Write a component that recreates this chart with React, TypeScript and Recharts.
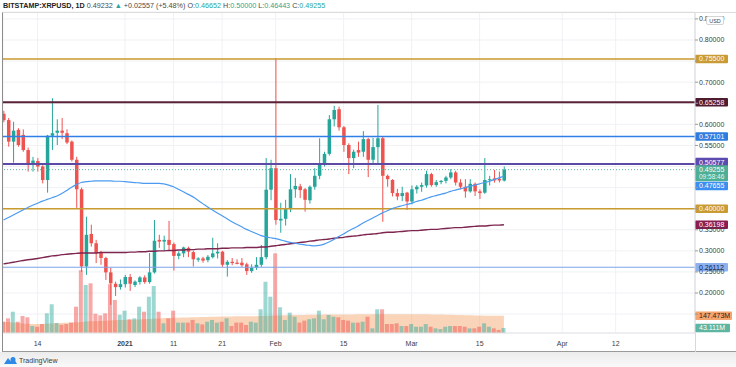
import React from 'react';
import { ComposedChart, Bar, Line, Area, XAxis, YAxis, CartesianGrid, ReferenceLine } from 'recharts';

const GREEN = '#26a69a';
const RED = '#ef5350';
const FONT = "'Liberation Sans', Arial, sans-serif";

// day offsets from 2021-01-01 (Dec 7 .. Mar 20)
const dayOffsets = [
  -25, -24, -23, -22, -21, -20, -19, -18, -17, -16,
  -15, -14, -13, -12, -11, -10, -9, -8, -7, -6,
  -5, -4, -3, -2, -1, 0, 1, 2, 3, 4,
  5, 6, 7, 8, 9, 10, 11, 12, 13, 14,
  15, 16, 17, 18, 19, 20, 21, 22, 23, 24,
  25, 26, 27, 28, 29, 30, 31, 32, 33, 34,
  35, 36, 37, 38, 39, 40, 41, 42, 43, 44,
  45, 46, 47, 48, 49, 50, 51, 52, 53, 54,
  55, 56, 57, 58, 59, 60, 61, 62, 63, 64,
  65, 66, 67, 68, 69, 70, 71, 72, 73, 74,
  75, 76, 77, 78,
];

const opens = [
  0.625, 0.610, 0.559, 0.587, 0.575, 0.539, 0.508, 0.513, 0.500, 0.468,
  0.573, 0.580, 0.585, 0.579, 0.559, 0.516, 0.446, 0.263, 0.340, 0.318,
  0.295, 0.283, 0.249, 0.222, 0.214, 0.221, 0.238, 0.219, 0.226, 0.237,
  0.226, 0.249, 0.326, 0.322, 0.326, 0.316, 0.288, 0.294, 0.307, 0.297,
  0.279, 0.282, 0.278, 0.285, 0.294, 0.298, 0.267, 0.274, 0.272, 0.272,
  0.268, 0.252, 0.260, 0.267, 0.285, 0.445, 0.496, 0.372, 0.376, 0.399,
  0.446, 0.453, 0.446, 0.420, 0.452, 0.478, 0.506, 0.530, 0.612, 0.636,
  0.593, 0.551, 0.520, 0.539, 0.535, 0.565, 0.516, 0.546, 0.567, 0.478,
  0.468, 0.437, 0.430, 0.438, 0.417, 0.446, 0.452, 0.455, 0.482, 0.456,
  0.463, 0.466, 0.474, 0.486, 0.462, 0.452, 0.441, 0.459, 0.441, 0.438,
  0.468, 0.472, 0.471, 0.46652,
];

const highs = [
  0.632, 0.615, 0.606, 0.591, 0.588, 0.545, 0.523, 0.520, 0.503, 0.575,
  0.662, 0.612, 0.615, 0.588, 0.562, 0.523, 0.450, 0.381, 0.362, 0.326,
  0.300, 0.286, 0.260, 0.227, 0.232, 0.243, 0.245, 0.230, 0.240, 0.242,
  0.295, 0.373, 0.338, 0.336, 0.371, 0.320, 0.299, 0.310, 0.310, 0.300,
  0.285, 0.286, 0.290, 0.331, 0.318, 0.300, 0.278, 0.283, 0.280, 0.283,
  0.272, 0.268, 0.285, 0.314, 0.520, 0.516, 0.757, 0.414, 0.421, 0.482,
  0.473, 0.459, 0.449, 0.455, 0.496, 0.567, 0.535, 0.622, 0.644, 0.642,
  0.596, 0.555, 0.540, 0.559, 0.584, 0.568, 0.568, 0.646, 0.571, 0.481,
  0.470, 0.447, 0.452, 0.440, 0.455, 0.456, 0.462, 0.490, 0.485, 0.468,
  0.468, 0.478, 0.494, 0.490, 0.470, 0.470, 0.470, 0.462, 0.446, 0.520,
  0.478, 0.492, 0.488, 0.500,
];

const lows = [
  0.605, 0.547, 0.509, 0.547, 0.535, 0.488, 0.488, 0.488, 0.460, 0.438,
  0.539, 0.551, 0.565, 0.553, 0.512, 0.402, 0.250, 0.243, 0.310, 0.271,
  0.267, 0.231, 0.172, 0.193, 0.208, 0.213, 0.205, 0.214, 0.220, 0.222,
  0.222, 0.246, 0.307, 0.300, 0.302, 0.253, 0.280, 0.285, 0.285, 0.263,
  0.274, 0.272, 0.273, 0.282, 0.282, 0.262, 0.239, 0.266, 0.268, 0.262,
  0.243, 0.248, 0.255, 0.262, 0.280, 0.420, 0.362, 0.343, 0.360, 0.392,
  0.426, 0.425, 0.393, 0.412, 0.445, 0.470, 0.500, 0.526, 0.595, 0.585,
  0.535, 0.482, 0.496, 0.523, 0.523, 0.475, 0.505, 0.505, 0.369, 0.452,
  0.429, 0.420, 0.418, 0.397, 0.410, 0.436, 0.440, 0.450, 0.452, 0.452,
  0.458, 0.460, 0.470, 0.455, 0.446, 0.426, 0.438, 0.430, 0.423, 0.435,
  0.455, 0.462, 0.462, 0.46443,
];

const closes = [
  0.610, 0.559, 0.585, 0.551, 0.539, 0.508, 0.514, 0.500, 0.468, 0.573,
  0.579, 0.585, 0.580, 0.557, 0.516, 0.446, 0.263, 0.338, 0.318, 0.295,
  0.283, 0.249, 0.223, 0.214, 0.221, 0.238, 0.222, 0.227, 0.237, 0.226,
  0.249, 0.324, 0.322, 0.326, 0.314, 0.288, 0.294, 0.308, 0.298, 0.280,
  0.282, 0.277, 0.286, 0.294, 0.298, 0.267, 0.274, 0.271, 0.269, 0.266,
  0.252, 0.260, 0.267, 0.285, 0.445, 0.496, 0.373, 0.376, 0.399, 0.446,
  0.454, 0.444, 0.421, 0.452, 0.478, 0.508, 0.530, 0.612, 0.634, 0.593,
  0.551, 0.520, 0.535, 0.533, 0.565, 0.516, 0.546, 0.567, 0.478, 0.470,
  0.437, 0.429, 0.437, 0.417, 0.446, 0.452, 0.456, 0.482, 0.456, 0.463,
  0.466, 0.474, 0.486, 0.462, 0.452, 0.441, 0.459, 0.441, 0.437, 0.468,
  0.470, 0.467, 0.467, 0.49255,
];

// volume in millions
const volumes = [
  97, 126, 183, 97, 146, 135, 60, 54, 77, 169,
  247, 86, 71, 77, 89, 226, 540, 413, 427, 166,
  152, 169, 420, 284, 157, 192, 118, 126, 226, 183,
  312, 404, 183, 83, 126, 192, 89, 89, 89, 112,
  83, 74, 97, 112, 89, 97, 126, 60, 89, 89,
  69, 97, 89, 204, 441, 312, 685, 221, 112, 175,
  140, 89, 106, 118, 126, 192, 118, 155, 140, 135,
  112, 106, 89, 89, 97, 140, 40, 204, 204, 77,
  77, 83, 60, 60, 77, 54, 54, 77, 54, 40,
  34, 54, 60, 60, 60, 54, 40, 40, 54, 83,
  54, 40, 26, 43.111,
];

const volumeMA = [
  97, 94, 90, 86, 82, 79, 77, 77, 78, 80,
  82, 84, 86, 88, 90, 92, 95, 98, 100, 102,
  104, 106, 108, 110, 111, 112, 113, 115, 117, 119,
  121, 123, 125, 128, 130, 131, 132, 133, 134, 135,
  136, 137, 138, 139, 140, 141, 142, 142, 143, 143,
  144, 145, 145, 146, 147, 148, 150, 151, 152, 153,
  154, 155, 155, 156, 157, 157, 158, 158, 159, 159,
  160, 160, 160, 161, 161, 161, 161, 162, 162, 162,
  162, 162, 162, 162, 162, 161, 161, 161, 160, 159,
  158, 157, 156, 155, 154, 153, 152, 151, 150, 149,
  149, 148, 148, 147.473,
];

const ma50 = [
  0.373, 0.379, 0.385, 0.391, 0.397, 0.403, 0.408, 0.413, 0.418, 0.422,
  0.426, 0.430, 0.436, 0.443, 0.451, 0.457, 0.462, 0.464, 0.465, 0.466,
  0.466, 0.466, 0.466, 0.465, 0.465, 0.464, 0.463, 0.462, 0.461, 0.460,
  0.460, 0.460, 0.460, 0.459, 0.456, 0.452, 0.446, 0.440, 0.434, 0.428,
  0.420, 0.412, 0.404, 0.397, 0.390, 0.383, 0.376, 0.369, 0.363, 0.357,
  0.351, 0.346, 0.341, 0.336, 0.333, 0.331, 0.329, 0.326, 0.323, 0.320,
  0.318, 0.316, 0.314, 0.313, 0.312, 0.313, 0.316, 0.321, 0.327, 0.334,
  0.340, 0.347, 0.353, 0.359, 0.366, 0.372, 0.378, 0.384, 0.390, 0.395,
  0.400, 0.404, 0.407, 0.410, 0.413, 0.417, 0.420, 0.424, 0.428, 0.431,
  0.434, 0.437, 0.441, 0.444, 0.447, 0.450, 0.453, 0.456, 0.459, 0.462,
  0.465, 0.469, 0.473, 0.47655,
];

const ma200 = [
  0.269, 0.271, 0.273, 0.275, 0.277, 0.279, 0.280, 0.282, 0.284, 0.286,
  0.288, 0.289, 0.291, 0.292, 0.293, 0.294, 0.295, 0.295, 0.295, 0.295,
  0.296, 0.296, 0.296, 0.296, 0.296, 0.296, 0.297, 0.297, 0.298, 0.298,
  0.299, 0.299, 0.300, 0.300, 0.301, 0.301, 0.302, 0.302, 0.303, 0.303,
  0.304, 0.304, 0.305, 0.305, 0.305, 0.306, 0.306, 0.307, 0.307, 0.307,
  0.308, 0.308, 0.308, 0.309, 0.309, 0.311, 0.312, 0.314, 0.315, 0.317,
  0.318, 0.320, 0.321, 0.323, 0.324, 0.326, 0.327, 0.328, 0.330, 0.331,
  0.332, 0.334, 0.335, 0.336, 0.338, 0.339, 0.340, 0.341, 0.343, 0.344,
  0.344, 0.345, 0.346, 0.347, 0.348, 0.348, 0.349, 0.350, 0.351, 0.351,
  0.352, 0.353, 0.354, 0.355, 0.355, 0.356, 0.357, 0.358, 0.359, 0.359,
  0.360, 0.361, 0.361, 0.36198,
];

const xTicks = [-18, 0, 10, 20, 31, 45, 59, 73, 90, 101];
const xTickLabels = ['14', '2021', '11', '21', 'Feb', '15', 'Mar', '15', 'Apr', '12'];

const priceTicks = [0.15, 0.2, 0.25, 0.3, 0.35, 0.4, 0.45, 0.5, 0.55, 0.6, 0.65, 0.7, 0.75, 0.8, 0.85];
const hiddenTicks = [0.15, 0.4, 0.45, 0.5, 0.65, 0.75];

const levels = [
  { value: 0.755, color: '#c99a2e', width: 1.5, tag: '#c99b35', text: '#ffffff', shift: 0 },
  { value: 0.65258, color: '#5a2139', width: 2, tag: '#4e1b2f', text: '#ffffff', shift: 0 },
  { value: 0.57101, color: '#2f7fe6', width: 1.5, tag: '#2e7ce0', text: '#ffffff', shift: 0 },
  { value: 0.50577, color: '#5b4aa6', width: 2, tag: '#5c4ab0', text: '#ffffff', shift: -2 },
  { value: 0.4, color: '#c99a2e', width: 1.5, tag: '#c99b35', text: '#ffffff', shift: 0 },
  { value: 0.26112, color: '#7aa3ea', width: 1, tag: '#8db0ef', text: '#15244a', shift: 0 },
];

const lastPrice = 0.49255;
const countdown = '09:58:46';

const rows = dayOffsets.map((d, i) => ({
  d,
  o: opens[i],
  h: highs[i],
  l: lows[i],
  c: closes[i],
  range: [lows[i], highs[i]],
  vol: volumes[i] * 1e6,
  volMA: volumeMA[i] * 1e6,
  ma50: ma50[i],
  ma200: ma200[i],
}));

const Candle = (props: any) => {
  const { x, y, width, height, payload } = props;
  if (!payload) return <g />;
  const { o, h, l, c } = payload;
  const color = c >= o ? GREEN : RED;
  const top = Math.min(y, y + height);
  const full = Math.abs(height);
  const ppu = h - l > 0 ? full / (h - l) : 0;
  const yOf = (p: number) => top + (h - p) * ppu;
  const cx = x + width / 2;
  const bodyTop = yOf(Math.max(o, c));
  const bodyH = Math.max(1, yOf(Math.min(o, c)) - bodyTop);
  return (
    <g>
      <line x1={cx} x2={cx} y1={top} y2={top + full} stroke={color} strokeWidth={1} />
      <rect x={x} y={bodyTop} width={width} height={bodyH} fill={color} />
    </g>
  );
};

const VolBar = (props: any) => {
  const { x, y, width, height, payload } = props;
  if (!payload) return <g />;
  const up = payload.c >= payload.o;
  return (
    <rect
      x={x}
      y={y}
      width={width}
      height={Math.max(0, height)}
      fill={up ? 'rgba(38,166,154,0.45)' : 'rgba(239,83,80,0.5)'}
    />
  );
};

const tag = (text: string, bg: string, fg: string, shift = 0, w = 33) => (props: any) => {
  const vb = props.viewBox || {};
  const x0 = vb.x + vb.width;
  const yc = vb.y + shift;
  return (
    <g>
      <rect x={x0} y={yc - 4.25} width={w} height={8.5} rx={1} fill={bg} />
      <text x={x0 + 4} y={yc} dy="0.35em" fontSize={7} fill={fg} fontFamily={FONT}>
        {text}
      </text>
    </g>
  );
};

const priceTag = (props: any) => {
  const vb = props.viewBox || {};
  const x0 = vb.x + vb.width;
  const yc = vb.y;
  return (
    <g>
      <rect x={x0} y={yc - 4.5} width={33} height={16} rx={1} fill="#4caf96" />
      <text x={x0 + 4} y={yc} dy="0.35em" fontSize={7} fill="#ffffff" fontFamily={FONT}>
        {lastPrice.toFixed(5)}
      </text>
      <text x={x0 + 4} y={yc + 7} dy="0.35em" fontSize={6.5} fill="#e6f5f0" fontFamily={FONT}>
        {countdown}
      </text>
    </g>
  );
};

const PriceTick = (props: any) => {
  const { x, y, payload } = props;
  const v = payload.value;
  if (hiddenTicks.some((t) => Math.abs(t - v) < 1e-6)) return <g />;
  return (
    <text x={x} y={y} dy="0.35em" fontSize={7} fill="#3d3d3d" textAnchor="start" fontFamily={FONT}>
      {v.toFixed(5)}
    </text>
  );
};

const DateTick = (props: any) => {
  const { x, y, payload } = props;
  const i = xTicks.indexOf(payload.value);
  const label = i >= 0 ? xTickLabels[i] : '';
  return (
    <text
      x={x}
      y={y + 5}
      textAnchor="middle"
      fontSize={7}
      fill="#3d3d3d"
      fontWeight={label === '2021' ? 'bold' : 'normal'}
      fontFamily={FONT}
    >
      {label}
    </text>
  );
};

export default function App() {
  return (
    <div style={{ position: 'relative', width: 736, height: 367, background: '#ffffff', fontFamily: FONT, overflow: 'hidden' }}>
      <style>{'body{margin:0}'}</style>
      <div style={{ position: 'absolute', left: 0, top: 352, width: 736, height: 15, background: 'linear-gradient(#ececec, #f9f9f9)' }} />
      <ComposedChart
        width={736}
        height={367}
        data={rows}
        margin={{ top: 12, right: 0, bottom: 15, left: 3 }}
      >
        <CartesianGrid xAxisId="main" yAxisId="price" stroke="#f0f1f4" strokeWidth={1} />
        <XAxis
          xAxisId="main"
          dataKey="d"
          type="number"
          domain={[-25.11, 117.33]}
          allowDataOverflow
          ticks={xTicks}
          tick={<DateTick />}
          tickLine={false}
          axisLine={{ stroke: '#e2e4ea' }}
          height={19}
          interval={0}
        />
        <XAxis xAxisId="vol" dataKey="d" type="number" domain={[-25.11, 117.33]} allowDataOverflow hide />
        <YAxis
          yAxisId="price"
          orientation="right"
          type="number"
          domain={[0.1052, 0.8664]}
          allowDataOverflow
          ticks={priceTicks}
          tick={<PriceTick />}
          tickSize={3}
          tickMargin={1}
          tickLine={{ stroke: '#9a9a9a' }}
          axisLine={{ stroke: '#d6d8de' }}
          width={41}
          interval={0}
        />
        <YAxis yAxisId="vol" type="number" domain={[0, 2760e6]} allowDataOverflow hide />

        <Bar
          xAxisId="vol"
          yAxisId="vol"
          dataKey="vol"
          barSize={4}
          shape={<VolBar />}
          isAnimationActive={false}
        />
        <Area
          xAxisId="vol"
          yAxisId="vol"
          dataKey="volMA"
          type="monotone"
          stroke="none"
          fill="#f5a062"
          fillOpacity={0.45}
          isAnimationActive={false}
        />

        {levels.map((lv) => (
          <ReferenceLine
            key={lv.value}
            xAxisId="main"
            yAxisId="price"
            y={lv.value}
            stroke={lv.color}
            strokeWidth={lv.width}
            label={tag(lv.value.toFixed(5), lv.tag, lv.text, lv.shift)}
          />
        ))}
        <ReferenceLine
          xAxisId="main"
          yAxisId="price"
          y={lastPrice}
          stroke="#5fb9a3"
          strokeWidth={1}
          strokeDasharray="1 2"
          label={priceTag}
        />

        <Line
          xAxisId="main"
          yAxisId="price"
          dataKey="ma200"
          type="monotone"
          stroke="#7e2550"
          strokeWidth={1.4}
          dot={false}
          isAnimationActive={false}
        />
        <Line
          xAxisId="main"
          yAxisId="price"
          dataKey="ma50"
          type="monotone"
          stroke="#4c9bf0"
          strokeWidth={1.2}
          dot={false}
          isAnimationActive={false}
        />
        <Bar
          xAxisId="main"
          yAxisId="price"
          dataKey="range"
          barSize={3.5}
          shape={<Candle />}
          isAnimationActive={false}
        />

        <ReferenceLine
          xAxisId="main"
          yAxisId="price"
          y={ma200[ma200.length - 1]}
          stroke="none"
          label={tag(ma200[ma200.length - 1].toFixed(5), '#8a1c50', '#ffffff')}
        />
        <ReferenceLine
          xAxisId="main"
          yAxisId="price"
          y={ma50[ma50.length - 1]}
          stroke="none"
          label={tag(ma50[ma50.length - 1].toFixed(5), '#3a8ff0', '#ffffff', 9.5)}
        />
        <ReferenceLine
          xAxisId="vol"
          yAxisId="vol"
          y={volumeMA[volumeMA.length - 1] * 1e6}
          stroke="none"
          label={tag(volumeMA[volumeMA.length - 1].toFixed(3) + 'M', '#f6a46d', '#2b2118', 0, 37)}
        />
        <ReferenceLine
          xAxisId="vol"
          yAxisId="vol"
          y={volumes[volumes.length - 1] * 1e6}
          stroke="none"
          label={tag(volumes[volumes.length - 1].toFixed(3) + 'M', '#5cb6a1', '#ffffff', 0, 35)}
        />
      </ComposedChart>

      {/* frame */}
      <div style={{ position: 'absolute', left: 2, top: 12, width: 734, height: 340, borderLeft: '1px solid #8c8c8c', borderTop: '1px solid #dcdcdc', borderBottom: '1px solid #9a9a9a', boxSizing: 'border-box', pointerEvents: 'none' }} />
      <div style={{ position: 'absolute', left: 695, top: 333, width: 1, height: 19, background: '#d6d8de' }} />

      {/* header */}
      <div style={{ position: 'absolute', left: 3, top: 1, fontSize: 7.2, lineHeight: '10px', color: '#4a4a4a', whiteSpace: 'nowrap' }}>
        <span style={{ fontWeight: 'bold', color: '#222' }}>BITSTAMP:XRPUSD, 1D</span>{' '}
        <span>0.49232</span> <span style={{ color: GREEN }}>▲</span> <span>+0.02557 (+5.48%)</span>{' '}
        <span>O:</span><span style={{ color: GREEN }}>0.46652</span>{' '}
        <span>H:</span><span style={{ color: GREEN }}>0.50000</span>{' '}
        <span>L:</span><span style={{ color: GREEN }}>0.46443</span>{' '}
        <span>C:</span><span style={{ color: GREEN }}>0.49255</span>
      </div>

      {/* currency badge */}
      <div style={{ position: 'absolute', left: 706, top: 16, width: 18, height: 9, border: '1px solid #d4d4d4', borderRadius: 2, background: '#ffffff', fontSize: 5.5, lineHeight: '9px', textAlign: 'center', color: '#444', boxSizing: 'border-box' }}>
        USD
      </div>

      {/* footer logo */}
      <div style={{ position: 'absolute', left: 4, top: 354, height: 12, display: 'flex', alignItems: 'center', fontSize: 7, color: '#3a3a3a' }}>
        <svg width={13} height={9} viewBox="0 0 13 9" style={{ marginRight: 2 }}>
          <path d="M0 8 L4 2 L6.5 5 L9 1 L13 8 Z" fill="#2e8ae6" />
          <circle cx={9} cy={3.5} r={2.5} fill="#2e8ae6" />
        </svg>
        <span>TradingView</span>
      </div>
    </div>
  );
}
